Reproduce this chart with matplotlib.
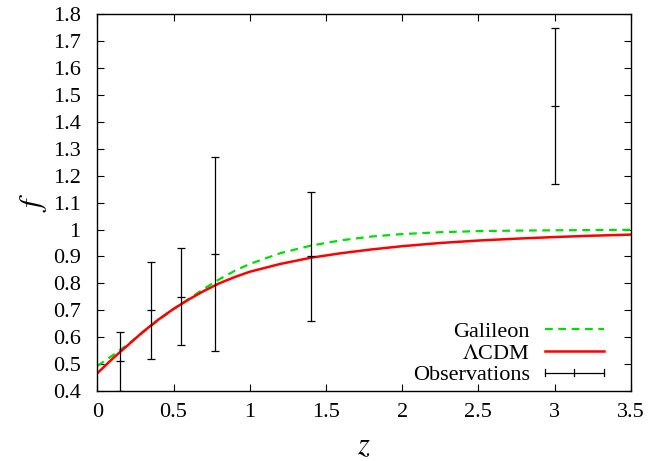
import numpy as np
import matplotlib.pyplot as plt
from matplotlib.legend_handler import HandlerBase
from matplotlib.lines import Line2D

# growth rate curves
z_grid = [0, 0.1, 0.2, 0.3, 0.4, 0.5, 0.6, 0.7, 0.8, 0.9, 1.0, 1.2, 1.4,
          1.6, 1.8, 2.0, 2.25, 2.5, 2.75, 3.0, 3.25, 3.5]
f_lcdm = [0.466, 0.52, 0.57, 0.62, 0.665, 0.705, 0.74, 0.772, 0.80, 0.823,
          0.843, 0.872, 0.895, 0.912, 0.926, 0.938, 0.950, 0.959, 0.966,
          0.972, 0.977, 0.981]
f_galileon = [0.493, 0.532, 0.573, 0.618, 0.663, 0.704, 0.742, 0.780, 0.815,
              0.846, 0.872, 0.912, 0.940, 0.960, 0.974, 0.983, 0.990, 0.994,
              0.996, 0.997, 0.998, 0.999]

# observations
z_obs = [0.15, 0.35, 0.55, 0.77, 1.4, 3.0]
f_obs = [0.51, 0.70, 0.75, 0.91, 0.90, 1.46]
f_err = [0.11, 0.18, 0.18, 0.36, 0.24, 0.29]

x_ticks = [0, 0.5, 1, 1.5, 2, 2.5, 3, 3.5]
x_ticklabels = ["0", "0.5", "1", "1.5", "2", "2.5", "3", "3.5"]
y_ticks = [0.4, 0.5, 0.6, 0.7, 0.8, 0.9, 1.0, 1.1, 1.2, 1.3, 1.4, 1.5, 1.6, 1.7, 1.8]
y_ticklabels = ["0.4", "0.5", "0.6", "0.7", "0.8", "0.9", "1", "1.1", "1.2",
                "1.3", "1.4", "1.5", "1.6", "1.7", "1.8"]


class ErrorBarKey(HandlerBase):
    # gnuplot style key sample: horizontal line with end and middle ticks
    def create_artists(self, legend, orig_handle, xdescent, ydescent,
                       width, height, fontsize, trans):
        y = height / 2 - ydescent
        x0 = -xdescent
        x1 = x0 + width
        xm = (x0 + x1) / 2
        t = height * 0.25
        arts = [Line2D([x0, x1], [y, y], color='black', lw=0.9)]
        for xx in (x0, xm, x1):
            arts.append(Line2D([xx, xx], [y - t, y + t], color='black', lw=0.9))
        for a in arts:
            a.set_transform(trans)
        return arts


def main():
    plt.rcParams['font.family'] = ['Liberation Serif', 'DejaVu Serif']
    plt.rcParams['mathtext.fontset'] = 'stix'

    fig = plt.figure(figsize=(6.49, 4.61), dpi=100)
    ax = fig.add_axes([0.150, 0.152, 0.822, 0.817])

    gal, = ax.plot(z_grid, f_galileon, color='#00e000', lw=1.6,
                   dashes=(3.5, 2.5), label='Galileon')
    lcdm, = ax.plot(z_grid, f_lcdm, color='#ff0000', lw=1.8, label=r'$\Lambda$CDM')
    ax.errorbar(z_obs, f_obs, yerr=f_err, fmt='none', ecolor='black',
                elinewidth=0.9, capsize=3, capthick=0.9)
    ax.plot(z_obs, f_obs, ls='none', marker='_', ms=6, mew=0.9, color='black')
    obs_proxy = Line2D([], [], color='black')

    ax.set_xlim(0, 3.5)
    ax.set_ylim(0.4, 1.8)
    ax.set_xticks(x_ticks)
    ax.set_xticklabels(x_ticklabels)
    ax.set_yticks(y_ticks)
    ax.set_yticklabels(y_ticklabels)
    ax.tick_params(direction='in', top=True, right=True, length=5, width=0.8,
                   labelsize=16)
    ax.tick_params(axis='x', pad=9)
    ax.tick_params(axis='y', pad=12)
    for s in ax.spines.values():
        s.set_linewidth(1.0)

    ax.set_xlabel('$z$', fontsize=22, labelpad=7)
    ax.set_ylabel('$f$', fontsize=22, labelpad=3)

    ax.legend([gal, lcdm, obs_proxy], ['Galileon', r'$\Lambda$CDM', 'Observations'],
              handler_map={obs_proxy: ErrorBarKey()},
              loc='lower right', bbox_to_anchor=(0.96, 0.0), frameon=False,
              markerfirst=False, fontsize=16, handlelength=2.65,
              handletextpad=0.68, labelspacing=0.05, borderpad=0.15,
              borderaxespad=0.1)

    fig.savefig('out.png', dpi=100)


if __name__ == "__main__":
    main()
